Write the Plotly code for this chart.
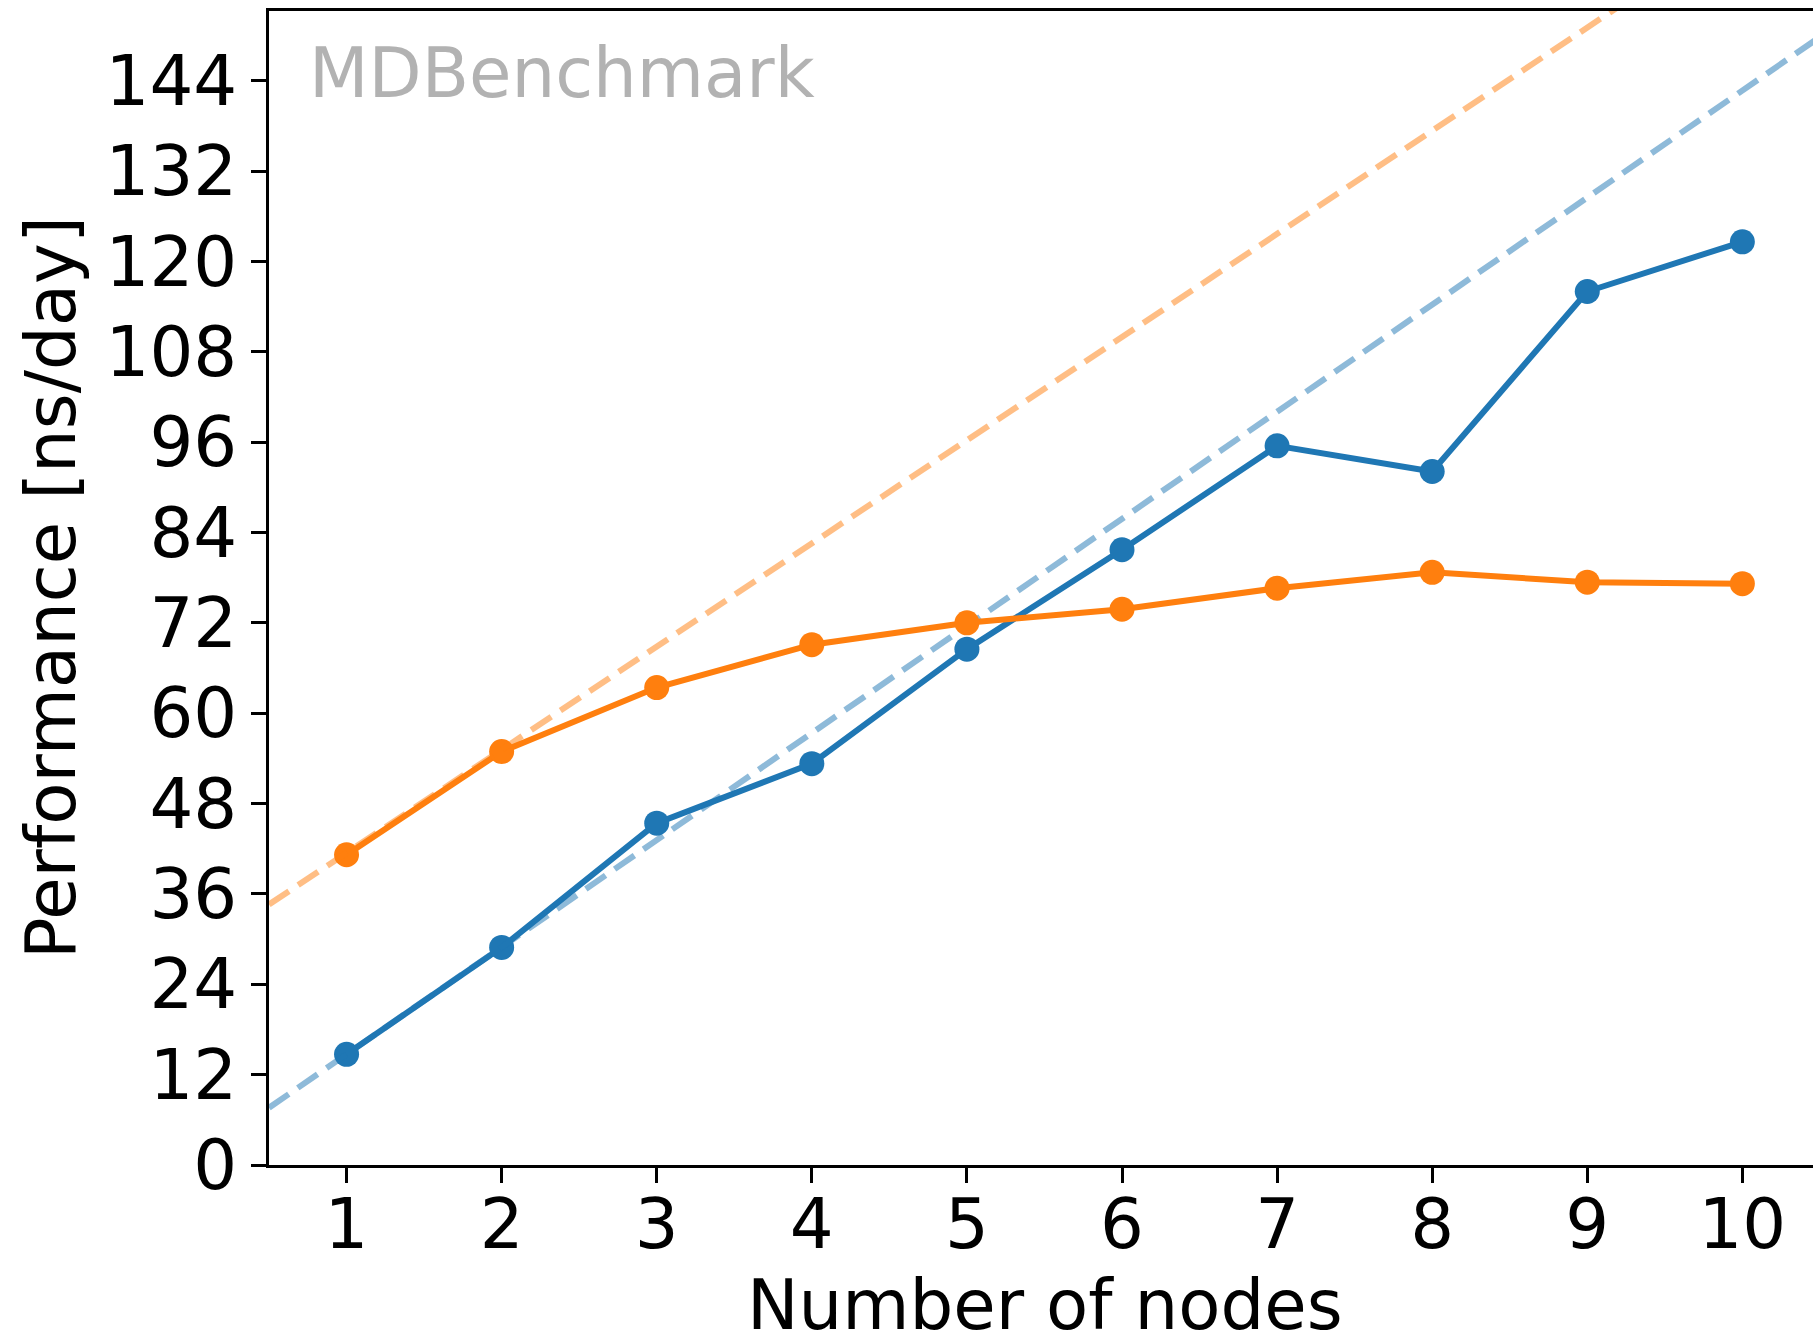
import plotly.graph_objects as go

# Data
nodes = [1, 2, 3, 4, 5, 6, 7, 8, 9, 10]
perf_blue = [14.7, 28.9, 45.4, 53.3, 68.5, 81.7, 95.5, 92.1, 116.0, 122.6]
perf_orange = [41.2, 54.9, 63.4, 69.1, 72.0, 73.8, 76.6, 78.7, 77.4, 77.2]

# Linear-scaling projections (dashed), endpoints
ideal_x = [0.5, 10.5]
ideal_blue = [7.6, 149.8]
ideal_orange = [34.6, 171.6]

y_ticks = [0, 12, 24, 36, 48, 60, 72, 84, 96, 108, 120, 132, 144]
x_ticks = nodes

BLUE = "#1f77b4"
ORANGE = "#ff7f0e"
FONT = "DejaVu Sans"
FS = 69
LW = 6
MS = 25
DASH = "24px,11px"

fig = go.Figure()
fig.add_trace(go.Scatter(x=nodes, y=perf_blue, mode="lines+markers",
                         line=dict(color=BLUE, width=LW),
                         marker=dict(color=BLUE, size=MS), showlegend=False))
fig.add_trace(go.Scatter(x=ideal_x, y=ideal_blue, mode="lines",
                         line=dict(color=BLUE, width=LW, dash=DASH),
                         opacity=0.5, showlegend=False))
fig.add_trace(go.Scatter(x=nodes, y=perf_orange, mode="lines+markers",
                         line=dict(color=ORANGE, width=LW),
                         marker=dict(color=ORANGE, size=MS), showlegend=False))
fig.add_trace(go.Scatter(x=ideal_x, y=ideal_orange, mode="lines",
                         line=dict(color=ORANGE, width=LW, dash=DASH),
                         opacity=0.5, showlegend=False))

W, H = 1813, 1339
L, T, B = 269, 11, 1339 - 1165

fig.update_layout(
    template="none",
    width=W, height=H,
    margin=dict(l=L, r=0, t=T, b=B, pad=0),
    paper_bgcolor="white", plot_bgcolor="white",
    font=dict(family=FONT, size=FS, color="black"),
    xaxis=dict(range=[0.5, 10.4555], tickvals=x_ticks, ticktext=[str(v) for v in x_ticks],
               automargin=False,
               showgrid=False, zeroline=False, showline=True, linecolor="black",
               linewidth=3, mirror=True, ticks="outside", ticklen=15, tickwidth=3,
               tickcolor="black", ticklabelstandoff=-18,
               tickfont=dict(family=FONT, size=FS, color="black")),
    yaxis=dict(range=[0, 153.25], tickvals=y_ticks, ticktext=[str(v) for v in y_ticks],
               automargin=False,
               showgrid=False, zeroline=False, showline=True, linecolor="black",
               linewidth=3, mirror=False, ticks="outside", ticklen=15, tickwidth=3,
               tickcolor="black", ticklabelstandoff=0,
               tickfont=dict(family=FONT, size=FS, color="black")),
)

# Axis titles and watermark as annotations (paper coordinates)
def px_x(X):
    return (X - L) / (W - L)

def px_y(Y):
    return (1165 - Y) / (1165 - T)

fig.add_annotation(text="Number of nodes", xref="paper", yref="paper",
                   x=px_x(1045), y=px_y(1305), xanchor="center", yanchor="middle",
                   showarrow=False, font=dict(family=FONT, size=FS, color="black"))
fig.add_annotation(text="Performance [ns/day]", xref="paper", yref="paper",
                   x=px_x(51), y=px_y(588), xanchor="center", yanchor="middle",
                   textangle=-90, showarrow=False,
                   font=dict(family=FONT, size=FS, color="black"))
fig.add_annotation(text="MDBenchmark", xref="paper", yref="paper",
                   x=px_x(307), y=px_y(73), xanchor="left", yanchor="middle",
                   showarrow=False, font=dict(family=FONT, size=FS, color="#b2b2b2"))

fig.write_html("out.html", config={"displayModeBar": False},
               post_script="document.body.style.margin='0';document.body.style.padding='0';")
